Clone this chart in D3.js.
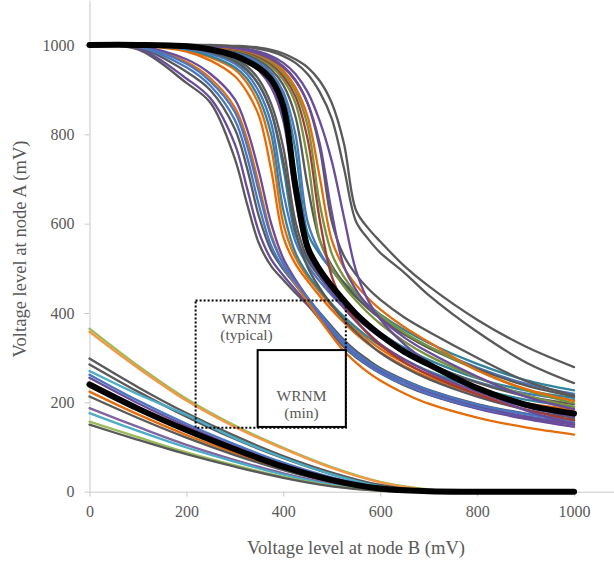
<!DOCTYPE html>
<html><head><meta charset="utf-8">
<script src="https://cdn.jsdelivr.net/npm/d3@7"></script>
<style>
body{margin:0;background:#fff;}
svg{display:block;}
</style></head>
<body><svg id="c" width="614" height="561"></svg>
<script>
// Tick labels
const xTicks = [0, 200, 400, 600, 800, 1000];
const yTicks = [0, 200, 400, 600, 800, 1000];

// Upper family (node A high) – shared x grid
const upperX = [0,100,200,250,300,325,350,375,400,425,450,475,500,525,550,575,600,650,700,800,900,1000];
const upperY = [
  [1000,990,915,870,745,645,555,505,474,445,418,386,354,324,301,282,265,238,217,187,166,150],
  [1000,993,925,880,778,680,580,520,484,452,421,389,358,328,304,284,267,240,218,186,163,145],
  [1000,995,940,898,812,725,615,540,498,465,433,401,370,340,315,295,277,250,228,196,175,160],
  [1000,996,950,908,832,750,640,550,500,463,429,394,360,328,303,283,266,240,219,189,169,155],
  [1000,997,962,925,860,790,685,575,510,465,425,386,349,315,289,267,249,220,197,166,144,128],
  [1000,998,968,935,878,812,715,600,522,475,435,399,366,335,310,289,272,246,224,192,168,150],
  [1000,997,958,918,850,775,670,570,510,469,434,399,366,336,311,291,274,248,227,195,174,160],
  [1000,999,985,965,930,895,840,720,570,510,472,438,407,379,353,331,312,281,256,219,195,178],
  [1000,999,988,972,945,915,865,770,600,524,481,447,416,387,362,340,320,288,262,224,198,184],
  [1000,999,990,975,950,925,880,800,630,535,487,451,420,392,368,346,327,296,270,232,206,190],
  [1000,999,992,980,958,935,895,825,670,560,507,471,440,412,388,366,346,313,286,246,220,205],
  [1000,1000,995,985,965,945,910,850,725,575,517,481,450,423,398,376,356,322,295,254,227,210],
  [1000,1000,994,984,963,943,910,850,740,585,503,456,418,385,357,333,311,278,252,213,184,165],
  [1000,1000,996,988,970,952,922,868,770,605,522,481,448,418,392,368,348,314,287,244,214,196],
  [1000,1000,997,991,978,964,942,905,830,655,533,483,445,411,381,355,331,296,268,224,190,168],
  [1000,1000,998,993,982,972,957,932,885,765,580,532,497,468,442,418,397,362,333,286,250,227],
  [1000,1000,998,994,984,975,961,938,895,800,605,537,496,463,436,412,390,354,325,278,242,219],
  [1000,1000,999,995,987,979,966,945,910,840,685,563,506,467,436,410,388,352,322,275,238,213],
  [1000,1000,999,996,989,982,970,952,922,870,745,565,501,460,428,400,376,336,304,256,216,190],
  [1000,1000,999,996,990,984,973,957,930,885,790,610,482,422,383,353,328,290,262,218,184,160],
  [1000,1000,999,997,992,986,976,961,937,897,820,645,533,481,445,418,395,356,325,272,228,198],
  [1000,1000,999,997,992,987,978,965,943,905,840,705,563,502,463,433,408,368,335,272,230,203],
  [1000,1000,1000,998,994,990,982,970,952,922,870,770,605,528,486,455,430,390,358,300,248,215],
  [1000,1000,999,997,993,988,980,968,950,920,870,780,625,505,452,416,388,345,312,258,213,185],
  [1000,1000,1000,998,995,991,985,975,960,935,895,830,740,615,495,428,386,330,290,230,182,152],
  [1000,1000,1000,999,997,995,991,985,975,960,935,895,835,725,605,566,535,490,440,358,290,243],
  [1000,1000,1000,1000,998,997,994,989,981,968,950,920,870,780,630,590,560,505,460,385,325,279]
];
const upperColors = ["#595959","#6a4c9c","#595959","#4a76c0","#e46c0a","#6a4c9c","#4a76c0","#e46c0a","#e46c0a","#31849b","#4a76c0","#31849b","#595959","#595959","#6a4c9c","#31849b","#4a76c0","#595959","#77933c","#a33b38","#77933c","#e46c0a","#595959","#6a4c9c","#6a4c9c","#595959","#595959"];
const upperBlack = [1000,1000,997,990,976,964,948,922,862,685,548,497,460,428,398,373,351,313,285,232,195,175];

// Lower family (node A low)
const lowerX = [0,100,200,300,400,500,600,700,800,1000];
const lowerY = [
  [365,282,208,148,98,55,22,5,0,0],
  [358,277,204,145,96,53,21,4,0,0],
  [298,234,176,125,80,43,15,2,0,0],
  [285,224,168,118,75,39,13,1,0,0],
  [270,218,172,120,76,39,12,1,0,0],
  [262,204,152,106,65,32,10,1,0,0],
  [255,198,147,101,61,29,8,0,0,0],
  [224,173,127,87,51,23,6,0,0,0],
  [213,165,121,82,48,21,5,0,0,0],
  [187,145,105,71,41,18,4,0,0,0],
  [176,136,99,67,38,15,3,0,0,0],
  [157,122,88,59,33,13,2,0,0,0],
  [150,116,84,56,31,12,2,0,0,0]
];
const lowerColors = ["#9bbb59","#f79646","#595959","#595959","#4bacc6","#4a76c0","#6a4c9c","#e46c0a","#595959","#8064a2","#4bacc6","#9bbb59","#595959"];
const lowerBlack = [240,186,138,95,56,26,7,1,0,0];

// Annotation boxes (mV)
const boxTypical = {x0:219, x1:529, y0:143, y1:428};
const boxMin = {x0:347, x1:529, y0:145, y1:317};

const FONT = "Liberation Serif";
const TXT = "#595959";
const svg = d3.select("#c");
const x = d3.scaleLinear().domain([0,1100]).range([89.5, 622.5]);
const y = d3.scaleLinear().domain([0,1100]).range([491.7, 0.3]);

// Axes
const gx = svg.append("g").attr("transform","translate(0,491.7)")
  .call(d3.axisBottom(x).tickValues(xTicks).tickFormat(d3.format("d")).tickSize(5).tickSizeOuter(0).tickPadding(9));
const gy = svg.append("g").attr("transform","translate(89.5,0)")
  .call(d3.axisLeft(y).tickValues(yTicks).tickFormat(d3.format("d")).tickSize(5).tickSizeOuter(0).tickPadding(10));
[gx,gy].forEach(g=>{
  g.attr("font-size",16);
  g.select(".domain").attr("stroke","#c8c8c8");
  g.selectAll(".tick line").attr("stroke","#c8c8c8");
  g.selectAll(".tick text").attr("fill",TXT).style("font-family",FONT);
});

const line = (xs) => d3.line().x((d,i)=>x(xs[i])).y(d=>y(d)).curve(d3.curveCatmullRom.alpha(0.5));
const gl = svg.append("g").attr("fill","none").attr("stroke-linecap","round");
lowerY.forEach((s,i)=>gl.append("path").attr("d",line(lowerX)(s)).attr("stroke",lowerColors[i]).attr("stroke-width",2.3));
upperY.forEach((s,i)=>gl.append("path").attr("d",line(upperX)(s)).attr("stroke",upperColors[i]).attr("stroke-width",2.3));
gl.append("path").attr("d",line(lowerX)(lowerBlack)).attr("stroke","#000").attr("stroke-width",6);
gl.append("path").attr("d",line(upperX)(upperBlack)).attr("stroke","#000").attr("stroke-width",6);

// Boxes
svg.append("rect").attr("x",x(boxTypical.x0)).attr("y",y(boxTypical.y1))
  .attr("width",x(boxTypical.x1)-x(boxTypical.x0)).attr("height",y(boxTypical.y0)-y(boxTypical.y1))
  .attr("fill","none").attr("stroke","#000").attr("stroke-width",2).attr("stroke-dasharray","2,2");
svg.append("rect").attr("x",x(boxMin.x0)).attr("y",y(boxMin.y1))
  .attr("width",x(boxMin.x1)-x(boxMin.x0)).attr("height",y(boxMin.y0)-y(boxMin.y1))
  .attr("fill","#fff").attr("stroke","#000").attr("stroke-width",2);

const lab = (t,cx,cy)=>svg.append("text").attr("x",cx).attr("y",cy).attr("text-anchor","middle")
  .style("font-family",FONT).attr("font-size",15.5).attr("fill",TXT).text(t);
lab("WRNM",246.5,323.5); lab("(typical)",246.5,340);
lab("WRNM",301.5,400.5); lab("(min)",301.5,418);

// Axis titles
svg.append("text").attr("x",356).attr("y",554).attr("text-anchor","middle").attr("fill",TXT)
  .style("font-family",FONT).attr("font-size",18.6).text("Voltage level at node B (mV)");
svg.append("text").attr("transform","translate(26,249) rotate(-90)").attr("text-anchor","middle").attr("fill",TXT)
  .style("font-family",FONT).attr("font-size",18.6).text("Voltage level at node A (mV)");
</script></body></html>
